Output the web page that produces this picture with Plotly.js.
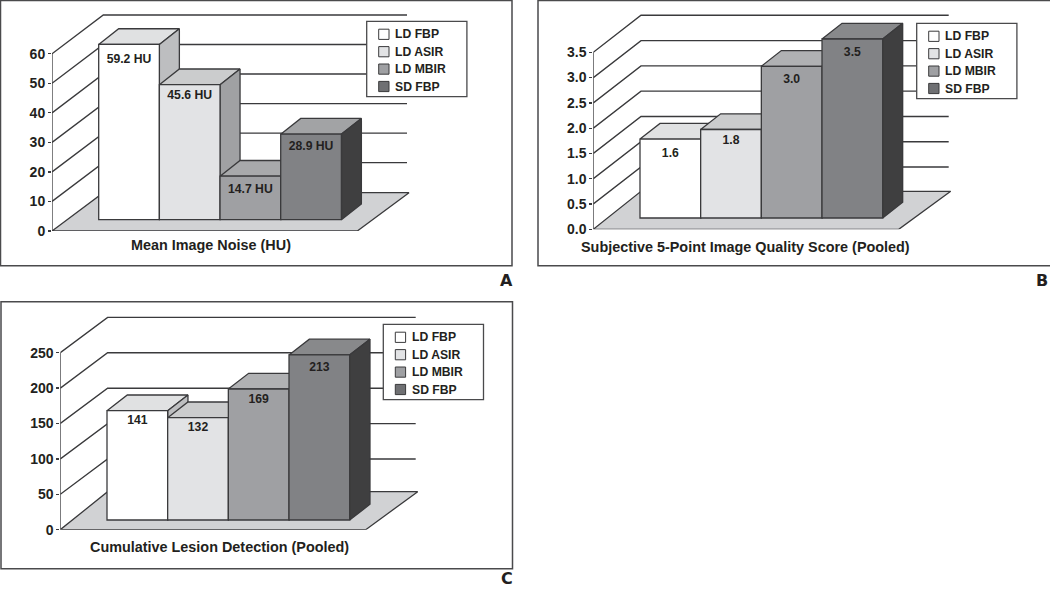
<!DOCTYPE html>
<html>
<head>
<meta charset="utf-8">
<script src="https://cdn.plot.ly/plotly-3.0.1.min.js"></script>
<style>html,body{margin:0;padding:0;background:#fff;overflow:hidden}#chart{width:1050px;height:589px}</style>
</head>
<body>
<div id="chart"></div>
<script>
// ---------- data ----------
const seriesNames = ['LD FBP', 'LD ASIR', 'LD MBIR', 'SD FBP'];

const noiseValues = [59.2, 45.6, 14.7, 28.9];
const noiseLabels = ['59.2 HU', '45.6 HU', '14.7 HU', '28.9 HU'];
const noiseTicks = [0, 10, 20, 30, 40, 50, 60];
const noiseTickText = ['0', '10', '20', '30', '40', '50', '60'];
const noiseTitle = 'Mean Image Noise (HU)';

const qualityValues = [1.56, 1.75, 3.0, 3.54];
const qualityLabels = ['1.6', '1.8', '3.0', '3.5'];
const qualityTicks = [0, 0.5, 1, 1.5, 2, 2.5, 3, 3.5];
const qualityTickText = ['0.0', '0.5', '1.0', '1.5', '2.0', '2.5', '3.0', '3.5'];
const qualityTitle = 'Subjective 5-Point Image Quality Score (Pooled)';

const lesionValues = [141, 132, 169, 213];
const lesionLabels = ['141', '132', '169', '213'];
const lesionTicks = [0, 50, 100, 150, 200, 250];
const lesionTickText = ['0', '50', '100', '150', '200', '250'];
const lesionTitle = 'Cumulative Lesion Detection (Pooled)';

// ---------- styles ----------
const frontColors = ['#ffffff', '#e2e3e5', '#9fa0a3', '#818285'];
const swatchColors = ['#ffffff', '#e2e3e5', '#9fa0a3', '#6f7073'];
const sideColors = ['#bdbec0', '#a0a1a3', '#8a8b8e', '#3f3f40'];
const INK = '#3a3a3c';
const TEXT = '#231f20';
const FONT = '"Liberation Sans", Arial, sans-serif';
const LETTER_FONT = '"DejaVu Sans", sans-serif';
const W = 1050, H = 589;

// ---------- panel geometry (pixels) ----------
const panels = [
  { values: noiseValues, labels: noiseLabels, ticks: noiseTicks, tickText: noiseTickText, title: noiseTitle,
    letter: 'A', frame: [0.5, 0.5, 512, 265.7], legend: [366.7, 21.3],
    axisX: 52, zeroY: 231, tickPx: 2.954, wallDx: 51.3, wallDy: 38.8, floorDy: 38.3, wallRight: 407,
    floorRight: 357.3, x0: 98.7, barW: 60.67, baseY: 219.7, barPx: 2.96, depthX: 20, depthY: 15.7,
    labelDrop: [15.3, 11.7, 13.3, 12.7], topColors: ['#e0e1e2', '#cbcccd', '#a8a9ab', '#a2a3a5'],
    titleAt: [211.3, 245], letterAt: [506, 281] },
  { values: qualityValues, labels: qualityLabels, ticks: qualityTicks, tickText: qualityTickText, title: qualityTitle,
    letter: 'B', frame: [538, 0.5, 1052, 265.7], legend: [916.7, 23.3],
    axisX: 593.3, zeroY: 229.3, tickPx: 50.57, wallDx: 47.7, wallDy: 37, floorDy: 38, wallRight: 948.7,
    floorRight: 898.7, x0: 640, barW: 60.67, baseY: 218, barPx: 50.57, depthX: 20, depthY: 15.7,
    labelDrop: [15.3, 11.7, 13.7, 13.7], topColors: ['#e0e1e2', '#cbcccd', '#b0b1b3', '#88898b'],
    titleAt: [745.5, 246.7], letterAt: [1042, 281] },
  { values: lesionValues, labels: lesionLabels, ticks: lesionTicks, tickText: lesionTickText, title: lesionTitle,
    letter: 'C', frame: [1, 301.7, 512.5, 568.7], legend: [383.3, 324.3],
    axisX: 60.3, zeroY: 529.7, tickPx: 0.708, wallDx: 47.3, wallDy: 35.3, floorDy: 38, wallRight: 415.7,
    floorRight: 365.7, x0: 107, barW: 60.67, baseY: 520, barPx: 0.775, depthX: 20.3, depthY: 15.7,
    labelDrop: [10.7, 10.7, 10.7, 13.3], topColors: ['#e0e1e2', '#cbcccd', '#b0b1b3', '#88898b'],
    titleAt: [219.7, 547.3], letterAt: [506.7, 578.2] }
];

const px = x => x / W;
const py = y => 1 - y / H;
const traces = [];
const layout = {
  width: W, height: H, margin: { l: 0, r: 0, t: 0, b: 0 },
  paper_bgcolor: '#fff', plot_bgcolor: 'rgba(0,0,0,0)',
  showlegend: false, hovermode: false, bargap: 0, shapes: [], annotations: [],
  font: { family: FONT, color: TEXT }
};

function poly(xs, ys, xa, ya, fill, lineWidth) {
  traces.push({ type: 'scatter', mode: 'lines', x: xs.concat(xs[0]), y: ys.concat(ys[0]), xaxis: xa, yaxis: ya,
    fill: 'toself', fillcolor: fill, line: { color: INK, width: lineWidth || 1.3 },
    cliponaxis: false, hoverinfo: 'skip', showlegend: false });
}
function line(xs, ys, xa, ya, width) {
  traces.push({ type: 'scatter', mode: 'lines', x: xs, y: ys, xaxis: xa, yaxis: ya,
    line: { color: INK, width: width || 1.4 }, cliponaxis: false, hoverinfo: 'skip', showlegend: false });
}
function note(text, x, y, size, anchor, family) {
  layout.annotations.push({ text: text, xref: 'paper', yref: 'paper', x: px(x), y: py(y), showarrow: false,
    xanchor: anchor || 'center', yanchor: 'middle', borderpad: 0,
    font: { family: family || FONT, size: size, color: TEXT, weight: 'bold' } });
}

panels.forEach((p, k) => {
  const xn = k + 1, yMain = 3 * k + 1, yMid = 3 * k + 2, yFront = 3 * k + 3;
  const xa = 'x' + xn, y1 = 'y' + (yMain === 1 ? '' : yMain), y2 = 'y' + yMid, y3 = 'y' + yFront;
  const topPx = p.zeroY - 226, rightPx = p.wallRight + 6;
  const xOf = v => (v - p.x0) / p.barW;
  const axisU = xOf(p.axisX), wallU = xOf(p.axisX + p.wallDx), endU = xOf(p.wallRight), floorEndU = xOf(p.floorRight);
  const floorEndBack = xOf(p.wallRight + 2);
  const wallDyV = p.wallDy / p.tickPx, floorDyV = p.floorDy / p.tickPx;
  const maxTick = p.ticks[p.ticks.length - 1];
  const domainY = [py(p.zeroY), py(topPx)];

  layout['xaxis' + (xn === 1 ? '' : xn)] = {
    domain: [px(p.axisX), px(rightPx)], range: [axisU, xOf(rightPx)], visible: false,
    fixedrange: true, anchor: y1
  };
  layout['yaxis' + (yMain === 1 ? '' : yMain)] = {
    domain: domainY, range: [0, (p.zeroY - topPx) / p.tickPx], anchor: xa, fixedrange: true,
    tickmode: 'array', tickvals: p.ticks, ticktext: p.tickText, ticks: 'outside', ticklen: 3, tickwidth: 1.3,
    tickcolor: INK, showline: false, showgrid: false, zeroline: false,
    tickfont: { family: FONT, size: 14, color: TEXT, weight: 'bold' }
  };
  const barRange = [(p.baseY - p.zeroY) / p.barPx, (p.baseY - topPx) / p.barPx];
  [yMid, yFront].forEach(id => {
    layout['yaxis' + id] = { domain: domainY, range: barRange, overlaying: y1, anchor: xa, visible: false, fixedrange: true };
  });

  // back wall, side wall and floor
  p.ticks.slice(1).forEach(t => {
    line([axisU, wallU, endU], [t, t + wallDyV, t + wallDyV], xa, y1);
  });
  poly([axisU, floorEndU, floorEndBack, wallU], [0, 0, floorDyV, floorDyV], xa, y1, '#d1d2d4');
  line([axisU, axisU], [0, maxTick], xa, y1, 1.3);

  // bar tops and sides, painted left to right
  const du = p.depthX / p.barW, dv = p.depthY / p.barPx;
  p.values.forEach((v, i) => {
    poly([i, i + 1, i + 1 + du, i + du], [v, v, v + dv, v + dv], xa, y2, p.topColors[i]);
    poly([i + 1, i + 1 + du, i + 1 + du, i + 1], [0, dv, v + dv, v], xa, y2, sideColors[i]);
  });

  // bar fronts
  traces.push({ type: 'bar', x: p.values.map((_, i) => i + 0.5), y: p.values, width: 1, xaxis: xa, yaxis: y3,
    text: seriesNames, textposition: 'none', hoverinfo: 'skip', showlegend: false,
    marker: { color: frontColors, line: { color: INK, width: 1.3 } } });

  // value labels
  traces.push({ type: 'scatter', mode: 'text', x: p.values.map((_, i) => i + 0.5),
    y: p.values.map((v, i) => v - p.labelDrop[i] / p.barPx), text: p.labels, textposition: 'middle center',
    textfont: { family: FONT, size: 12.2, color: TEXT, weight: 'bold' },
    xaxis: xa, yaxis: y3, cliponaxis: false, hoverinfo: 'skip', showlegend: false });

  // frame
  layout.shapes.push({ type: 'rect', xref: 'paper', yref: 'paper', layer: 'below',
    x0: px(p.frame[0]), x1: px(p.frame[2]), y0: py(p.frame[1]), y1: py(p.frame[3]),
    line: { color: '#4a4a4c', width: 1.5 }, fillcolor: '#fff' });

  // legend box
  const lx = p.legend[0], ly = p.legend[1];
  layout.shapes.push({ type: 'rect', xref: 'paper', yref: 'paper', layer: 'above',
    x0: px(lx), x1: px(lx + 100.2), y0: py(ly), y1: py(ly + 75.4),
    line: { color: '#4a4a4c', width: 1.3 }, fillcolor: '#fff' });
  seriesNames.forEach((name, i) => {
    const cy = ly + 13 + 17.4 * i;
    layout.shapes.push({ type: 'rect', xref: 'paper', yref: 'paper', layer: 'above',
      x0: px(lx + 12), x1: px(lx + 22.3), y0: py(cy - 5.1), y1: py(cy + 5.1),
      line: { color: INK, width: 1 }, fillcolor: swatchColors[i] });
    note(name, lx + 27.3, cy, 12.2, 'left');
  });

  note(p.title, p.titleAt[0], p.titleAt[1], 14.4);
  note(p.letter, p.letterAt[0], p.letterAt[1], 16, 'center', LETTER_FONT);
});

Plotly.newPlot('chart', traces, layout, { staticPlot: true, displayModeBar: false });
</script>
</body>
</html>
